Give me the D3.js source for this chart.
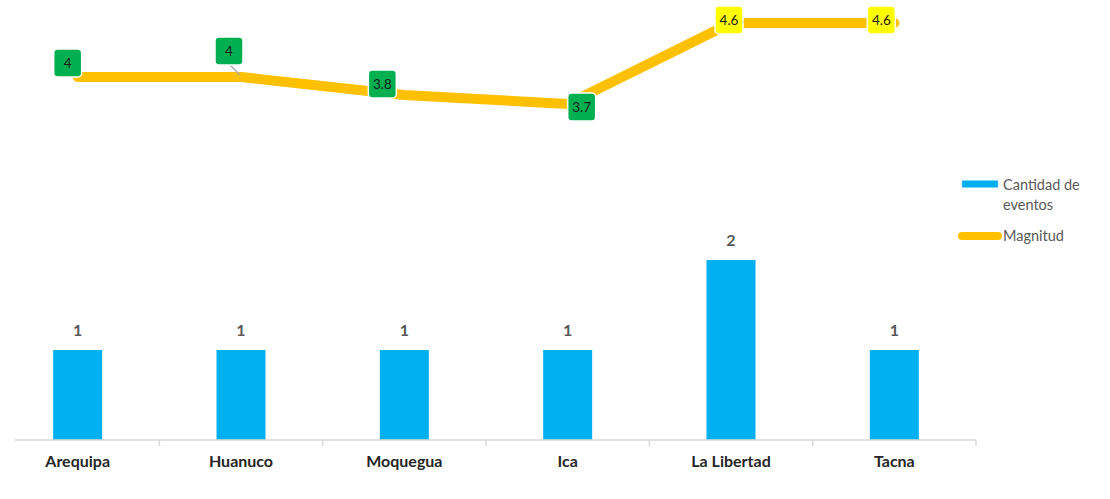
<!DOCTYPE html>
<html lang="es">
<head>
    <meta charset="utf-8">
    <title>Eventos y magnitud</title>
    <script src="https://d3js.org/d3.v7.min.js"></script>
    <style>
        body { margin: 0; background: #fff; }
        svg { display: block; font-family: Lato, "Open Sans", sans-serif; }
    </style>
</head>
<body>
    <svg id="chart"></svg>

    <script>
        // data
        var regiones = ["Arequipa", "Huanuco", "Moquegua", "Ica", "La Libertad", "Tacna"];
        var cantidadEventos = [1, 1, 1, 1, 2, 1];
        var magnitud = [4, 4, 3.8, 3.7, 4.6, 4.6];
        var seriesNames = ["Cantidad de eventos", "Magnitud"];

        // label placement relative to each line point (layout only)
        var labelNudge = [[-10, -14], [-12, -26], [-22, -11], [14, 3], [-2, -3], [-13, -3]];

        var W = 1110, H = 499;
        var svg = d3.select("#chart").attr("width", W).attr("height", H);

        var x = d3.scaleBand()
            .domain(regiones)
            .range([-4, 976])
            .paddingInner(0.7)
            .paddingOuter(0.35);
        var step = x.step();

        var yBar = d3.scaleLinear().domain([0, 2]).range([440, 260]);
        var yLine = d3.scaleLinear().domain([0, 4.6]).range([437, 23]);

        // bars
        svg.append("g").selectAll("rect")
            .data(cantidadEventos)
            .join("rect")
            .attr("x", function (d, i) { return x(regiones[i]); })
            .attr("y", function (d) { return yBar(d); })
            .attr("width", x.bandwidth())
            .attr("height", function (d) { return yBar(0) - yBar(d); })
            .attr("fill", "#00B0F0");

        svg.append("g").selectAll("text")
            .data(cantidadEventos)
            .join("text")
            .attr("x", function (d, i) { return x(regiones[i]) + x.bandwidth() / 2; })
            .attr("y", function (d) { return yBar(d) - 14; })
            .attr("text-anchor", "middle")
            .style("font-size", "16px")
            .style("font-weight", "bold")
            .attr("fill", "#595959")
            .text(function (d) { return d; });

        // category axis
        var axis = svg.append("g")
            .attr("transform", "translate(0,440)")
            .call(d3.axisBottom(x).tickSize(0).tickPadding(16));
        axis.select(".domain").remove();
        axis.selectAll("text")
            .style("font-family", "Lato, sans-serif")
            .style("font-size", "16px")
            .style("font-weight", "bold")
            .attr("fill", "#262626");

        axis.append("line")
            .attr("x1", 15).attr("x2", x.range()[1])
            .attr("y1", 0).attr("y2", 0)
            .attr("stroke", "#D9D9D9")
            .attr("stroke-width", 1.5);

        axis.selectAll("line.tick-mark")
            .data(regiones)
            .join("line")
            .attr("class", "tick-mark")
            .attr("x1", function (d) { return x(d) - x.paddingOuter() * step + step; })
            .attr("x2", function (d) { return x(d) - x.paddingOuter() * step + step; })
            .attr("y1", 0).attr("y2", 6)
            .attr("stroke", "#D9D9D9")
            .attr("stroke-width", 1.5);

        // magnitude line
        var pts = magnitud.map(function (d, i) {
            return [x(regiones[i]) + x.bandwidth() / 2, yLine(d)];
        });

        svg.append("path")
            .datum(pts)
            .attr("d", d3.line())
            .attr("fill", "none")
            .attr("stroke", "#FFC000")
            .attr("stroke-width", 10)
            .attr("stroke-linecap", "round")
            .attr("stroke-linejoin", "round");

        // leader line for second label
        svg.append("line")
            .attr("x1", pts[1][0] - 11).attr("y1", pts[1][1] - 12)
            .attr("x2", pts[1][0] - 1).attr("y2", pts[1][1] - 2)
            .attr("stroke", "#A6A6A6")
            .attr("stroke-width", 1.2);

        var lbl = svg.append("g").selectAll("g")
            .data(magnitud)
            .join("g")
            .attr("transform", function (d, i) {
                return "translate(" + (pts[i][0] + labelNudge[i][0]) + "," + (pts[i][1] + labelNudge[i][1]) + ")";
            });

        lbl.append("rect")
            .attr("x", -14).attr("y", -14)
            .attr("width", 28).attr("height", 28)
            .attr("rx", 4)
            .attr("fill", function (d) { return d >= 4.5 ? "#FFFF00" : "#00B050"; })
            .attr("stroke", "#fff")
            .attr("stroke-width", 1.5);

        lbl.append("text")
            .attr("text-anchor", "middle")
            .attr("dy", "0.35em")
            .style("font-size", "13.5px")
            .attr("fill", "#1a1a1a")
            .text(function (d) { return d; });

        // legend
        var leg = svg.append("g").attr("transform", "translate(962,0)");
        leg.append("line")
            .attr("x1", 0).attr("x2", 36).attr("y1", 184).attr("y2", 184)
            .attr("stroke", "#00B0F0").attr("stroke-width", 7);
        leg.append("text")
            .attr("x", 41).attr("y", 190)
            .style("font-size", "14.5px").attr("fill", "#595959")
            .text("Cantidad de");
        leg.append("text")
            .attr("x", 41).attr("y", 210)
            .style("font-size", "14.5px").attr("fill", "#595959")
            .text("eventos");
        leg.append("line")
            .attr("x1", 0).attr("x2", 36).attr("y1", 236).attr("y2", 236)
            .attr("stroke", "#FFC000").attr("stroke-width", 8)
            .attr("stroke-linecap", "round");
        leg.append("text")
            .attr("x", 41).attr("y", 241)
            .style("font-size", "14.5px").attr("fill", "#595959")
            .text(seriesNames[1]);
    </script>
</body>
</html>
